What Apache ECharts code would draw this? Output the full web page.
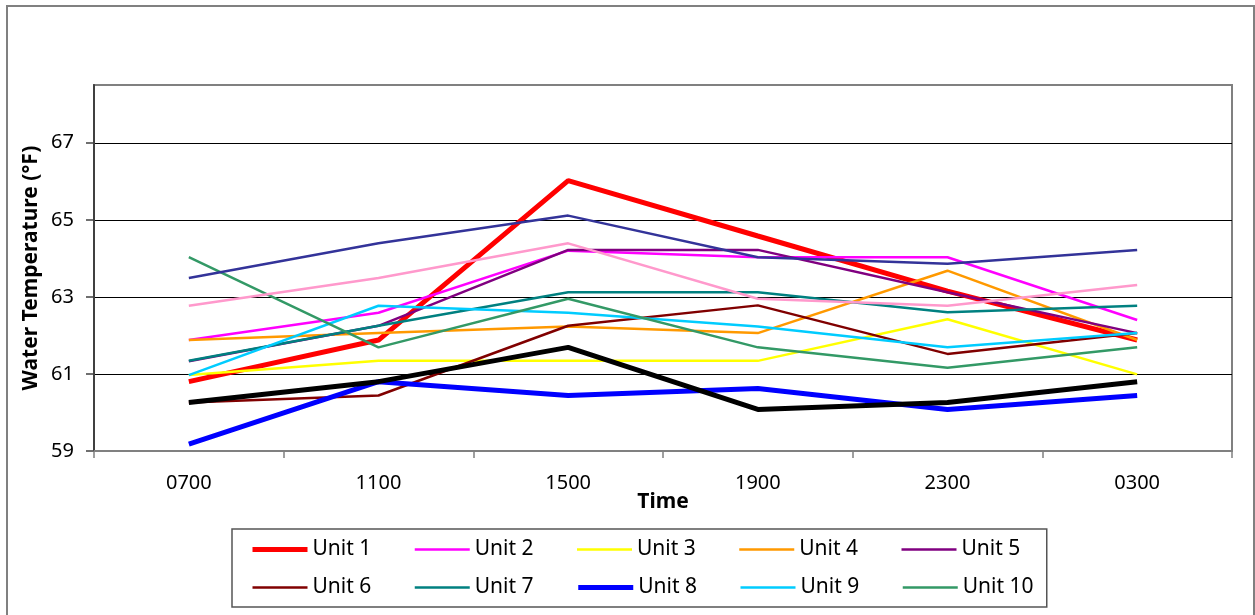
<!DOCTYPE html>
<html>
<head>
<meta charset="utf-8">
<script src="https://cdn.jsdelivr.net/npm/echarts@6/dist/echarts.min.js"></script>
<style>
  html, body { margin: 0; padding: 0; background: #fff; }
  #chart { width: 1255px; height: 615px; }
</style>
</head>
<body>
<div id="chart"></div>
<script>
// time of day readings
var times = ['0700', '1100', '1500', '1900', '2300', '0300'];

var unit1 = [60.80, 61.88, 66.02, 64.58, 63.15, 61.88];
var unit2 = [61.88, 62.59, 64.20, 64.03, 64.03, 62.40];
var unit3 = [60.97, 61.34, 61.34, 61.34, 62.42, 60.99];
var unit4 = [61.88, 62.06, 62.23, 62.06, 63.68, 61.88];
var unit5 = [61.33, 62.25, 64.22, 64.22, 63.12, 62.06];
var unit6 = [60.26, 60.44, 62.25, 62.78, 61.52, 62.06];
var unit7 = [61.34, 62.25, 63.12, 63.12, 62.60, 62.77];
var unit8 = [59.18, 60.80, 60.44, 60.62, 60.08, 60.44];
var unit9 = [60.97, 62.77, 62.59, 62.23, 61.69, 62.06];
var unit10 = [64.03, 61.69, 62.95, 61.69, 61.16, 61.69];
// lines drawn but not listed in the legend
var unit11 = [63.49, 64.39, 65.11, 64.03, 63.86, 64.22];
var unit12 = [62.77, 63.49, 64.39, 62.95, 62.77, 63.31];
var unit13 = [60.26, 60.80, 61.69, 60.08, 60.26, 60.80];

var legendNames = ['Unit 1', 'Unit 2', 'Unit 3', 'Unit 4', 'Unit 5',
                   'Unit 6', 'Unit 7', 'Unit 8', 'Unit 9', 'Unit 10'];

var yMin = 59, yMax = 68.5, yStep = 2;

var FONT = '"Noto Sans", "Liberation Sans", sans-serif';

var widths = {};

function line(name, data, color, width) {
    widths[name] = width;
    return {
        name: name,
        type: 'line',
        data: data,
        color: color,
        symbol: 'none',
        showSymbol: false,
        lineStyle: { width: width, color: color },
        emphasis: { disabled: true }
    };
}

var series = [
    line('Unit 1', unit1, '#FF0000', 5),
    line('Unit 2', unit2, '#FF00FF', 2.5),
    line('Unit 3', unit3, '#FFFF00', 2.5),
    line('Unit 4', unit4, '#FF9900', 2.5),
    line('Unit 5', unit5, '#800080', 2.5),
    line('Unit 6', unit6, '#800000', 2.5),
    line('Unit 7', unit7, '#008080', 2.5),
    line('Unit 8', unit8, '#0000FF', 5),
    line('Unit 9', unit9, '#00CCFF', 2.5),
    line('Unit 10', unit10, '#339966', 2.5),
    line('Unit 11', unit11, '#333399', 2.5),
    line('Unit 12', unit12, '#FF99CC', 2.5),
    line('Unit 13', unit13, '#000000', 5)
];

var chart = echarts.init(document.getElementById('chart'));

var option = {
    animation: false,
    backgroundColor: '#fff',
    textStyle: { fontFamily: FONT },
    graphic: [{
        type: 'rect',
        shape: { x: 7, y: 6, width: 1247, height: 640 },
        style: { fill: 'none', stroke: '#808080', lineWidth: 2 },
        silent: true
    }],
    grid: {
        left: 94,
        right: 23,
        top: 85,
        bottom: 164,
        show: true,
        borderColor: '#808080',
        borderWidth: 2
    },
    legend: {
        data: legendNames.map(function (n) {
            return { name: n, lineStyle: { width: widths[n] } };
        }),
        left: 232,
        top: 529,
        width: 830,
        padding: [10, 0, 9, 18],
        itemGap: 17,
        itemWidth: 55,
        itemHeight: 18,
        itemStyle: { opacity: 0 },
        borderColor: '#555',
        borderWidth: 1.5,
        textStyle: {
            fontFamily: FONT,
            fontSize: 21,
            color: '#000',
            width: 84,
            lineHeight: 18
        }
    },
    xAxis: {
        type: 'category',
        data: times,
        boundaryGap: true,
        name: 'Time',
        nameLocation: 'middle',
        nameGap: 41,
        nameMoveOverlap: false,
        nameTextStyle: { fontFamily: FONT, fontSize: 21, fontWeight: 'bold', color: '#000' },
        axisLine: { lineStyle: { color: '#808080', width: 2 } },
        axisTick: { show: true, length: 7, inside: false, lineStyle: { color: '#808080', width: 1.5 } },
        axisLabel: { margin: 22, fontSize: 20, color: '#000', fontFamily: FONT },
        splitLine: { show: false }
    },
    yAxis: {
        type: 'value',
        min: yMin,
        max: yMax,
        interval: yStep,
        name: 'Water Temperature (°F)',
        nameLocation: 'middle',
        nameGap: 52,
        nameMoveOverlap: false,
        nameTextStyle: { fontFamily: FONT, fontSize: 21, fontWeight: 'bold', color: '#000' },
        axisLine: { show: true, lineStyle: { color: '#404040', width: 2 } },
        axisTick: { show: true, length: 8, lineStyle: { color: '#404040', width: 1.5 } },
        axisLabel: { margin: 20, fontSize: 20, color: '#000', fontFamily: FONT, showMaxLabel: false },
        splitLine: { show: true, showMaxLine: false, lineStyle: { color: '#000', width: 1.2 } }
    },
    series: series
};

chart.setOption(option);
</script>
</body>
</html>
